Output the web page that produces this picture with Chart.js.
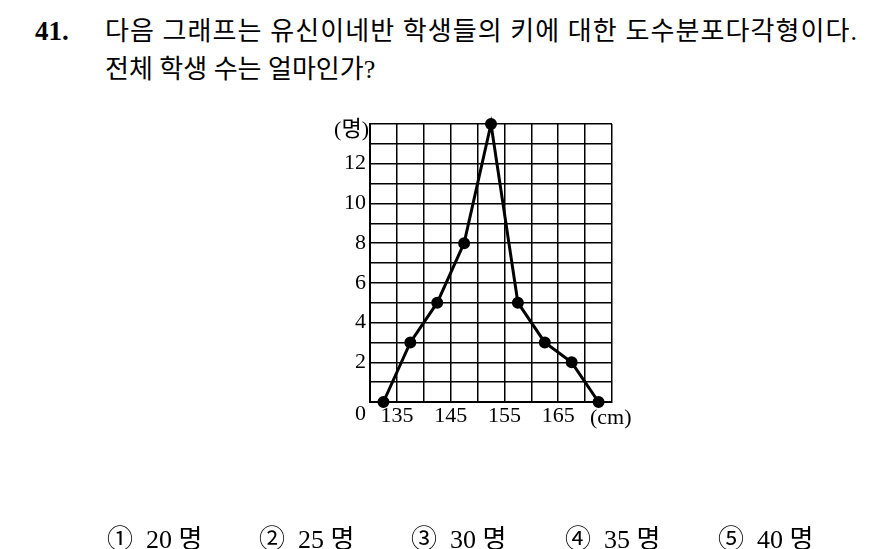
<!DOCTYPE html>
<html>
<head>
<meta charset="utf-8">
<script src="https://cdn.jsdelivr.net/npm/chart.js@4"></script>
<style>
  body{ margin:0; width:884px; height:549px; background:#fff; position:relative; overflow:hidden;
        font-family:"Liberation Serif","DejaVu Serif","Noto Sans CJK KR",serif; color:#000; }
  #q{ position:absolute; left:35px; top:12px; font-size:26px; line-height:38px; white-space:nowrap; }
  #q b{ font-size:27px; display:inline-block; width:70px; }
  #q .l2{ padding-left:70px; }
  #wrap{ position:absolute; left:0; top:0; width:884px; height:549px; }
  .opt{ position:absolute; top:518px; font-size:26px; white-space:nowrap; }
</style>
</head>
<body>

<div id="q">
  <div><b>41.</b><span id="line1">다음 그래프는 유신이네반 학생들의 키에 대한 도수분포다각형이다.</span></div>
  <div class="l2">전체 학생 수는 얼마인가?</div>
</div>

<div id="wrap"><canvas id="chart" width="884" height="549"></canvas></div>

<div class="opt" style="left:107px">① &nbsp;20 명</div>
<div class="opt" style="left:259px">② &nbsp;25 명</div>
<div class="opt" style="left:411px">③ &nbsp;30 명</div>
<div class="opt" style="left:565px">④ &nbsp;35 명</div>
<div class="opt" style="left:718px">⑤ &nbsp;40 명</div>

<script>

/* ========================= */
/* DATA */
/* ========================= */

const heights = [132.5, 137.5, 142.5, 147.5, 152.5, 157.5, 162.5, 167.5, 172.5];
const counts  = [0, 3, 5, 8, 14, 5, 3, 2, 0];

const xLabels = [135, 145, 155, 165];
const yLabels = [2, 4, 6, 8, 10, 12];

const SERIF = '"Liberation Serif","DejaVu Serif",serif';

/* first line of the question ends at x = 858 */
const line1 = document.getElementById('line1');
const w = line1.getBoundingClientRect();
const extra = 858 - w.right;
if(extra > 0){
  line1.style.letterSpacing = (extra / line1.textContent.length) + 'px';
}

/* ========================= */
/* EXTRA TEXT */
/* ========================= */

const axisText = {
  id: 'axisText',
  afterDraw(chart){
    const ctx = chart.ctx;
    const x = chart.scales.x;
    const y = chart.scales.y;
    ctx.save();
    ctx.fillStyle = '#000';
    ctx.textBaseline = 'middle';

    ctx.font = '22px ' + SERIF;
    ctx.textAlign = 'right';
    ctx.fillText('0', x.left - 4, y.bottom + 12);

    ctx.font = '22px ' + SERIF + ',"Noto Sans CJK KR"';
    ctx.fillText('(명)', x.left - 1, y.top + 6);

    ctx.textAlign = 'left';
    ctx.font = '22px ' + SERIF;
    ctx.fillText('(cm)', x.right - 22, y.bottom + 16);
    ctx.restore();
  }
};

/* ========================= */
/* CHART */
/* ========================= */

new Chart(document.getElementById('chart'), {
  type: 'line',
  data: {
    datasets: [{
      data: heights.map((h, i) => ({ x: h, y: counts[i] })),
      borderColor: '#000',
      backgroundColor: '#000',
      borderWidth: 3,
      pointRadius: 4.5,
      pointHoverRadius: 4.5,
      tension: 0,
      clip: false
    }]
  },
  options: {
    responsive: false,
    animation: false,
    events: [],
    layout: { padding: { left: 330, right: 272, top: 124, bottom: 117 } },
    plugins: { legend: { display: false }, tooltip: { enabled: false } },
    scales: {
      x: {
        type: 'linear',
        min: 130,
        max: 175,
        afterFit: s => { s.height = 30; },
        border: { color: '#000', width: 2 },
        grid: { color: '#000', lineWidth: 1.5, drawTicks: false },
        ticks: {
          stepSize: 5,
          autoSkip: false,
          maxRotation: 0,
          padding: 1,
          color: '#000',
          font: { family: SERIF, size: 22 },
          callback: v => xLabels.includes(v) ? String(v) : ''
        }
      },
      y: {
        min: 0,
        max: 14,
        afterFit: s => { s.width = 40; },
        border: { color: '#000', width: 2 },
        grid: { color: '#000', lineWidth: 1.5, drawTicks: false },
        ticks: {
          stepSize: 1,
          autoSkip: false,
          padding: 4,
          color: '#000',
          font: { family: SERIF, size: 22 },
          callback: v => yLabels.includes(v) ? String(v) : ''
        }
      }
    }
  },
  plugins: [axisText]
});

</script>
</body>
</html>
